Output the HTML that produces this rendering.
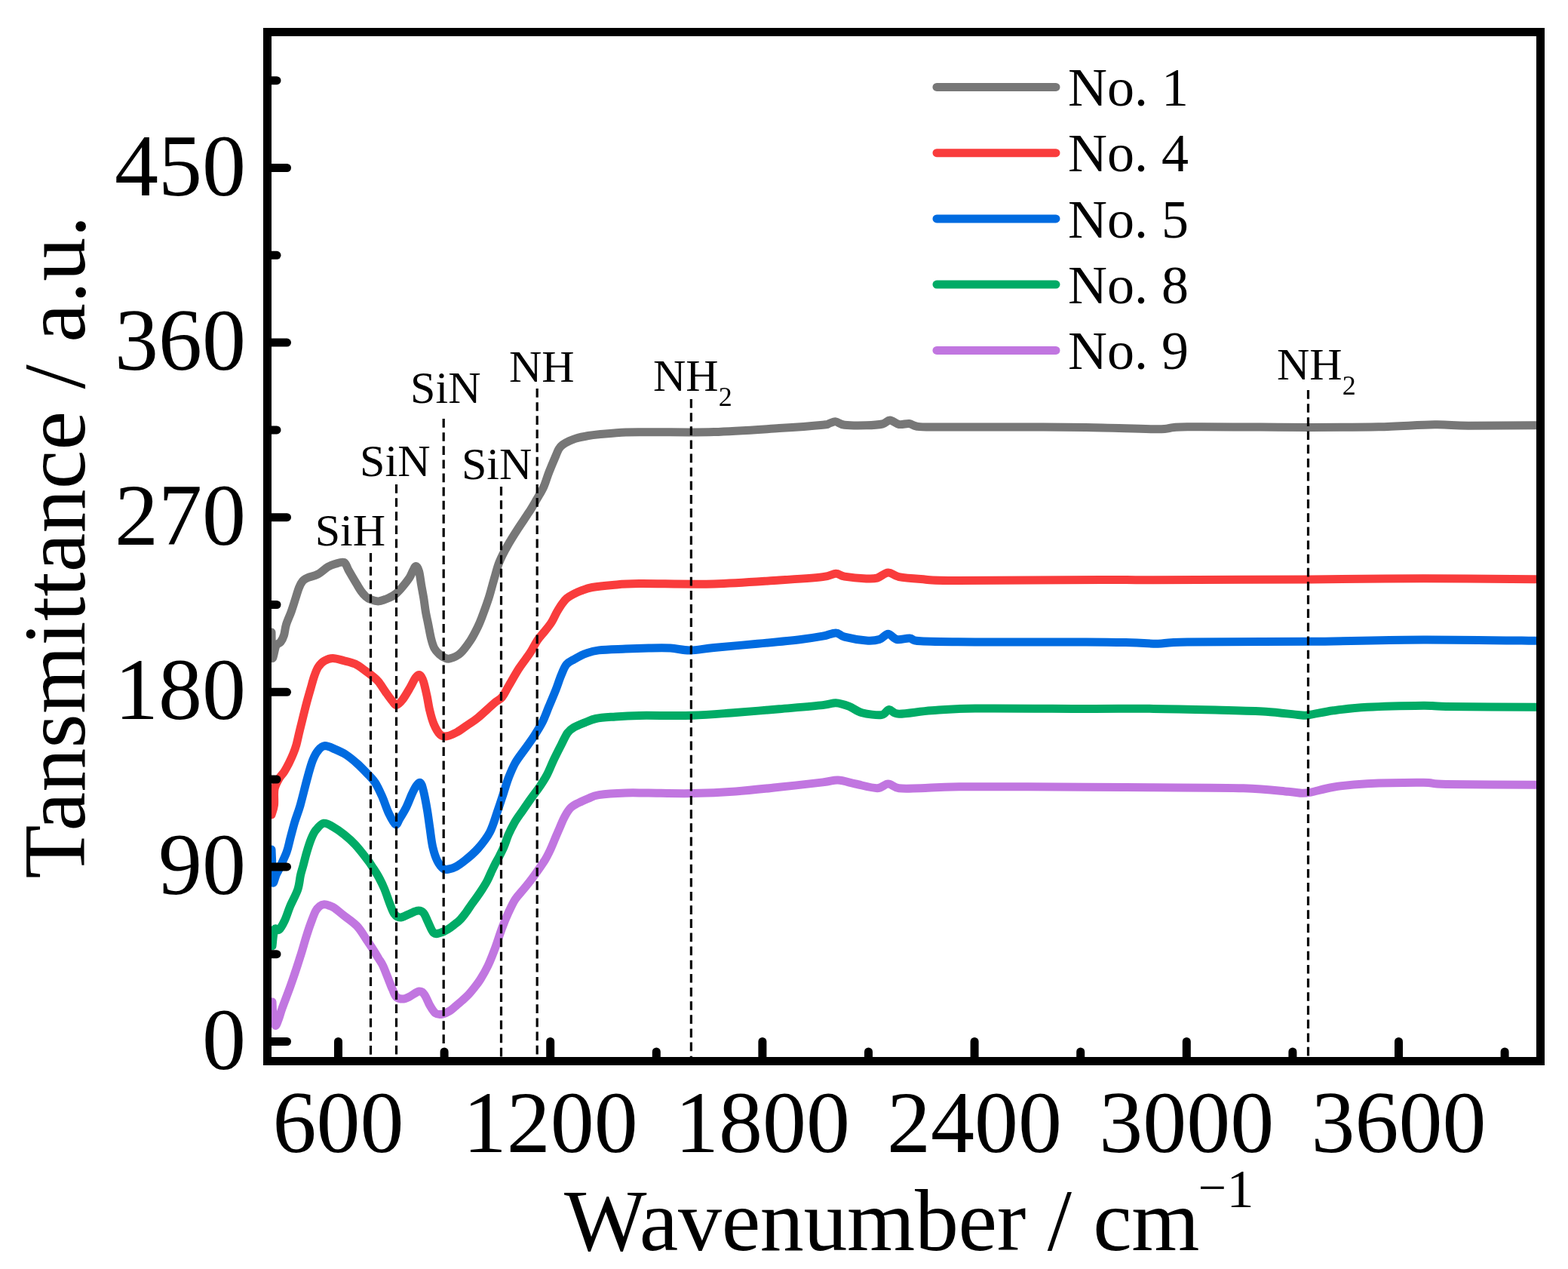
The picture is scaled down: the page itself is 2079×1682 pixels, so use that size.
<!DOCTYPE html>
<html><head><meta charset="utf-8"><title>FTIR spectra</title>
<style>html,body{margin:0;padding:0;background:#fff;}svg{display:block;}</style>
</head><body>
<svg width="2079" height="1682" viewBox="0 0 2079 1682">
<rect width="2079" height="1682" fill="#fff"/>
<clipPath id="pc"><rect x="360" y="48" width="1677" height="1353"/></clipPath>
<g clip-path="url(#pc)" fill="none" stroke-width="11" stroke-linejoin="round" stroke-linecap="round"><path d="M360.0 838.0 C360.2 843.7 360.0 869.0 361.0 872.0 C362.0 875.0 364.2 859.5 366.0 856.0 C367.8 852.5 370.2 853.3 372.0 851.0 C373.8 848.7 375.3 845.8 376.5 842.0 C377.7 838.2 377.8 833.4 379.4 828.1 C381.0 822.8 384.2 816.2 386.3 810.3 C388.4 804.3 390.4 797.6 392.1 792.4 C393.8 787.2 394.9 782.8 396.4 779.1 C397.9 775.4 399.4 772.3 401.3 770.1 C403.2 767.9 404.6 767.2 408.0 765.7 C411.4 764.2 416.9 763.6 421.4 761.2 C425.8 758.8 430.9 753.7 434.7 751.4 C438.5 749.1 440.6 748.5 444.2 747.5 C447.8 746.5 453.1 744.1 456.1 745.4 C459.1 746.7 460.1 752.2 462.0 755.5 C463.9 758.8 465.7 761.9 467.5 765.0 C469.3 768.1 471.2 771.2 473.0 774.2 C474.8 777.2 476.5 780.3 478.4 783.0 C480.3 785.7 482.4 788.3 484.6 790.3 C486.8 792.2 488.7 793.6 491.7 794.7 C494.7 795.8 498.4 797.3 502.4 796.9 C506.4 796.5 512.1 794.0 515.8 792.4 C519.5 790.8 521.7 789.5 524.7 787.1 C527.7 784.7 530.7 781.3 533.7 777.7 C536.7 774.1 540.6 769.2 542.9 765.7 C545.2 762.2 546.1 759.0 547.5 756.5 C548.9 754.0 550.2 750.4 551.5 750.5 C552.8 750.6 554.3 753.0 555.5 757.0 C556.7 761.0 557.5 768.7 558.5 774.6 C559.5 780.5 560.7 786.5 561.7 792.4 C562.7 798.3 563.3 804.3 564.3 810.3 C565.3 816.2 566.7 822.1 567.9 828.1 C569.1 834.1 570.2 840.8 571.5 846.0 C572.8 851.2 574.1 855.8 575.9 859.3 C577.7 862.8 580.0 864.9 582.4 867.0 C584.8 869.1 587.6 871.0 590.0 872.0 C592.4 873.0 593.5 873.8 596.9 872.8 C600.3 871.8 605.8 870.0 610.3 866.0 C614.8 862.0 619.8 854.8 623.7 849.0 C627.6 843.2 631.0 836.1 633.5 831.0 C636.0 825.9 636.5 824.5 638.9 818.2 C641.3 811.9 645.1 801.6 647.8 793.3 C650.5 785.0 652.5 776.3 654.9 768.3 C657.3 760.3 659.0 752.5 662.0 745.1 C665.0 737.7 668.5 731.1 672.7 723.7 C676.9 716.3 682.2 707.9 687.0 700.5 C691.8 693.1 697.1 685.6 701.3 679.1 C705.5 672.6 708.7 666.9 712.0 661.3 C715.3 655.6 718.2 651.2 720.9 645.2 C723.6 639.2 725.3 632.4 728.0 625.6 C730.7 618.8 734.7 609.3 736.9 604.2 C739.1 599.1 739.5 597.5 741.0 595.0 C742.5 592.5 743.7 591.2 746.0 589.5 C748.3 587.8 751.8 585.9 754.8 584.5 C757.8 583.1 759.8 582.2 764.0 581.0 C768.2 579.8 775.0 578.4 780.0 577.5 C785.0 576.6 785.7 576.5 794.0 575.7 C802.3 575.0 817.8 573.5 829.7 573.0 C841.6 572.5 845.9 572.8 865.4 572.7 C884.9 572.6 918.6 573.4 946.6 572.5 C974.6 571.6 1009.2 569.1 1033.2 567.6 C1057.2 566.1 1079.8 564.3 1090.9 563.2 C1102.0 562.1 1097.1 561.7 1100.0 561.0 C1102.9 560.3 1104.9 558.5 1108.2 558.9 C1111.5 559.3 1113.0 562.4 1119.7 563.2 C1126.4 564.0 1140.2 564.0 1148.6 563.8 C1157.0 563.6 1164.8 563.1 1170.0 562.0 C1175.2 560.9 1176.3 556.9 1180.0 557.0 C1183.7 557.1 1187.8 561.8 1192.0 562.5 C1196.2 563.2 1201.7 561.1 1205.5 561.5 C1209.3 561.9 1210.0 564.2 1215.0 565.0 C1220.0 565.8 1217.4 565.9 1235.2 566.1 C1253.0 566.3 1287.7 566.1 1321.8 566.1 C1355.9 566.1 1404.4 566.0 1440.0 566.4 C1475.6 566.8 1513.0 568.9 1535.4 568.8 C1557.8 568.7 1540.4 566.2 1574.2 565.8 C1608.0 565.4 1696.0 566.4 1738.2 566.4 C1780.5 566.4 1800.4 566.4 1827.7 565.8 C1855.0 565.2 1882.4 563.0 1902.3 562.8 C1922.2 562.5 1924.0 564.1 1947.0 564.3 C1970.0 564.4 2024.5 563.8 2040.0 563.7" stroke="#777777"/><path d="M360.0 1080.0 C360.6 1077.8 362.8 1072.7 363.5 1067.0 C364.2 1061.3 362.9 1051.8 364.0 1046.0 C365.1 1040.2 367.8 1035.9 370.0 1032.0 C372.2 1028.1 374.8 1026.2 377.0 1022.6 C379.2 1019.1 381.5 1014.7 383.5 1010.7 C385.5 1006.7 387.3 1002.8 388.9 998.8 C390.5 994.8 391.5 992.2 393.0 986.9 C394.5 981.6 395.4 976.2 397.7 967.0 C400.0 957.8 404.2 940.4 406.6 931.4 C409.0 922.4 410.1 919.0 411.8 913.0 C413.5 907.0 415.2 900.5 416.9 895.7 C418.6 890.9 419.8 887.3 422.0 884.0 C424.2 880.7 426.8 877.9 430.0 876.0 C433.2 874.1 436.8 872.5 441.2 872.5 C445.6 872.5 451.2 874.4 456.1 875.7 C461.1 877.0 466.2 877.9 470.9 880.1 C475.6 882.3 480.1 886.0 484.3 889.0 C488.5 892.0 493.2 895.5 496.2 898.0 C499.2 900.5 499.9 901.0 502.4 904.2 C504.9 907.5 508.4 913.3 511.4 917.5 C514.4 921.7 517.9 926.7 520.3 929.5 C522.7 932.3 523.4 934.8 525.6 934.5 C527.8 934.2 530.7 931.4 533.7 927.5 C536.7 923.6 540.9 916.2 543.8 911.3 C546.7 906.4 549.0 900.7 551.2 898.0 C553.4 895.3 555.4 894.1 557.1 895.0 C558.8 895.9 560.0 899.0 561.5 903.5 C563.0 908.0 564.6 915.7 566.0 922.0 C567.4 928.3 568.2 935.2 569.7 941.4 C571.2 947.6 572.7 953.9 575.0 959.2 C577.3 964.6 580.6 970.7 583.5 973.5 C586.4 976.3 588.7 976.3 592.4 975.8 C596.1 975.3 601.3 972.9 605.8 970.5 C610.3 968.1 614.6 964.7 619.2 961.5 C623.8 958.3 627.5 956.4 633.5 951.5 C639.5 946.6 649.5 937.0 654.9 932.4 C660.2 927.8 662.4 927.9 665.6 924.1 C668.8 920.3 670.3 916.2 674.1 909.8 C677.9 903.4 683.6 893.0 688.4 885.6 C693.2 878.2 698.7 871.7 702.7 865.6 C706.7 859.5 709.0 854.0 712.2 849.2 C715.4 844.4 718.8 841.0 722.0 837.0 C725.2 833.0 728.5 829.2 731.2 824.9 C734.0 820.6 736.1 815.1 738.5 811.0 C740.9 806.9 743.3 803.0 745.5 800.0 C747.7 797.0 749.1 795.0 751.5 793.0 C753.9 791.0 756.6 789.4 759.7 787.8 C762.8 786.2 765.8 784.8 770.0 783.2 C774.2 781.7 778.1 779.8 785.1 778.5 C792.1 777.2 801.5 776.2 811.9 775.4 C822.3 774.6 825.0 773.9 847.5 773.6 C870.0 773.4 915.6 774.7 946.6 773.9 C977.6 773.1 1009.2 770.5 1033.2 769.0 C1057.2 767.5 1078.4 766.1 1090.9 764.6 C1103.4 763.1 1103.4 760.4 1108.2 760.3 C1113.0 760.2 1113.0 763.0 1119.7 764.1 C1126.4 765.2 1141.4 766.6 1148.6 766.9 C1155.8 767.2 1158.2 767.4 1163.0 766.1 C1167.8 764.8 1172.7 759.1 1177.5 758.9 C1182.3 758.6 1184.7 763.2 1191.9 764.6 C1199.1 766.0 1208.8 766.7 1220.8 767.5 C1232.8 768.3 1224.1 769.4 1264.0 769.5 C1303.9 769.6 1415.8 768.5 1460.0 768.4 C1504.2 768.3 1483.1 768.9 1529.5 768.8 C1575.9 768.7 1678.6 768.2 1738.2 767.9 C1797.8 767.5 1837.0 766.7 1887.3 766.7 C1937.6 766.7 2014.5 767.7 2040.0 767.9" stroke="#F93C3C"/><path d="M360.0 1126.0 C360.2 1130.0 360.7 1142.7 361.0 1150.0 C361.3 1157.3 361.2 1168.3 362.0 1170.0 C362.8 1171.7 364.7 1163.0 366.0 1160.0 C367.3 1157.0 367.6 1157.3 369.9 1152.2 C372.2 1147.1 377.5 1136.3 380.0 1129.6 C382.5 1122.9 382.9 1118.7 384.7 1112.0 C386.5 1105.3 388.5 1097.1 390.7 1089.7 C392.9 1082.3 395.4 1076.8 398.1 1067.4 C400.8 1058.0 404.3 1043.1 407.0 1033.2 C409.7 1023.3 412.0 1014.4 414.5 1008.0 C417.0 1001.6 419.2 997.8 421.9 994.6 C424.6 991.4 427.1 988.9 430.8 988.6 C434.5 988.4 439.5 991.1 444.2 993.1 C448.9 995.1 454.1 997.3 459.0 1000.5 C463.9 1003.7 468.9 1007.9 473.9 1012.4 C478.9 1016.9 484.8 1023.1 488.8 1027.3 C492.8 1031.5 494.7 1033.0 497.7 1037.7 C500.7 1042.4 503.6 1048.8 506.6 1055.5 C509.6 1062.2 512.5 1071.8 515.5 1078.0 C518.5 1084.2 522.0 1091.5 524.4 1092.7 C526.8 1093.9 527.6 1088.8 530.0 1085.0 C532.4 1081.2 536.0 1075.4 538.7 1070.0 C541.4 1064.6 544.0 1057.2 546.2 1052.4 C548.4 1047.7 550.1 1044.0 552.0 1041.5 C553.9 1039.0 555.9 1036.5 557.4 1037.5 C558.9 1038.5 559.7 1041.6 561.2 1047.4 C562.7 1053.2 564.8 1064.1 566.2 1072.4 C567.7 1080.7 568.6 1089.1 569.9 1097.4 C571.1 1105.7 572.0 1115.1 573.7 1122.4 C575.4 1129.7 577.5 1136.2 579.9 1141.1 C582.3 1145.9 585.5 1149.7 588.0 1151.5 C590.5 1153.3 592.2 1152.5 595.0 1152.0 C597.8 1151.5 601.2 1150.6 604.9 1148.6 C608.6 1146.6 612.6 1143.7 617.4 1139.8 C622.2 1135.9 628.1 1131.1 633.5 1125.0 C638.9 1118.9 645.0 1111.6 649.5 1103.0 C654.0 1094.4 657.3 1081.8 660.3 1073.3 C663.3 1064.8 665.0 1059.1 667.4 1051.9 C669.8 1044.8 671.8 1037.2 674.5 1030.4 C677.2 1023.6 679.8 1017.0 683.4 1010.8 C687.0 1004.6 691.7 998.9 695.9 993.0 C700.1 987.1 704.5 981.2 708.4 975.2 C712.3 969.2 715.8 963.8 719.1 957.3 C722.4 950.8 725.0 943.0 728.0 935.9 C731.0 928.8 734.2 921.3 736.9 914.5 C739.6 907.7 741.7 900.5 744.1 894.9 C746.5 889.2 748.2 884.2 751.2 880.6 C754.2 877.0 757.7 875.9 761.9 873.5 C766.1 871.1 770.9 868.3 776.2 866.4 C781.6 864.5 785.1 862.9 794.0 861.9 C802.9 860.9 818.7 860.6 829.7 860.1 C840.7 859.6 850.1 859.3 860.0 859.1 C869.9 858.9 879.8 858.6 888.9 859.1 C898.0 859.6 905.2 862.1 914.8 862.0 C924.4 861.9 931.7 860.0 946.6 858.5 C961.5 857.0 985.1 855.1 1004.3 853.3 C1023.5 851.5 1047.6 849.2 1062.0 847.5 C1076.4 845.8 1083.2 844.6 1090.9 843.2 C1098.6 841.8 1103.4 838.8 1108.2 838.9 C1113.0 839.0 1113.0 842.4 1119.7 844.1 C1126.4 845.8 1140.9 848.4 1148.6 849.0 C1156.3 849.6 1161.1 849.0 1165.9 847.5 C1170.7 846.0 1173.7 840.3 1177.5 840.3 C1181.3 840.3 1184.2 846.5 1189.0 847.5 C1193.8 848.5 1201.0 845.7 1206.3 846.1 C1211.6 846.5 1206.4 849.0 1220.8 849.8 C1235.2 850.6 1256.4 850.8 1292.9 851.0 C1329.4 851.2 1405.5 850.8 1440.0 850.9 C1474.5 851.0 1483.7 851.4 1499.6 851.8 C1515.5 852.2 1523.0 853.4 1535.4 853.2 C1547.8 853.1 1540.4 851.4 1574.2 850.9 C1608.0 850.4 1686.0 850.8 1738.2 850.3 C1790.4 849.8 1837.0 848.0 1887.3 847.9 C1937.6 847.8 2014.5 849.1 2040.0 849.4" stroke="#006BE0"/><path d="M361.0 1254.0 C361.5 1250.3 362.5 1235.6 364.0 1232.0 C365.5 1228.4 367.7 1234.3 369.9 1232.4 C372.1 1230.5 374.8 1225.7 377.3 1220.5 C379.8 1215.3 381.8 1208.1 384.7 1201.2 C387.6 1194.3 392.5 1185.9 394.8 1179.0 C397.1 1172.1 397.3 1165.3 398.5 1160.0 C399.7 1154.7 400.6 1152.5 402.0 1147.4 C403.4 1142.3 404.9 1135.5 406.7 1129.6 C408.5 1123.6 410.7 1116.6 412.7 1111.7 C414.7 1106.8 416.1 1103.5 418.9 1100.1 C421.7 1096.7 425.6 1091.9 429.3 1091.2 C433.0 1090.5 436.7 1093.2 441.2 1095.7 C445.7 1098.2 451.2 1102.1 456.1 1106.1 C461.1 1110.1 465.7 1114.0 470.9 1119.5 C476.1 1125.0 483.1 1134.2 487.1 1139.4 C491.1 1144.6 492.2 1146.7 494.7 1150.5 C497.2 1154.3 499.6 1157.9 502.1 1162.5 C504.6 1167.1 507.1 1172.0 509.6 1178.0 C512.1 1184.0 514.8 1192.6 517.0 1198.2 C519.2 1203.8 520.8 1208.6 523.0 1211.6 C525.2 1214.6 527.2 1216.1 530.4 1216.1 C533.6 1216.1 538.3 1213.1 542.3 1211.6 C546.3 1210.1 551.0 1207.3 554.2 1207.1 C557.4 1206.8 559.4 1207.6 561.6 1210.1 C563.8 1212.6 565.3 1217.6 567.5 1222.0 C569.7 1226.4 572.3 1234.1 575.0 1236.5 C577.7 1238.9 580.3 1237.3 583.5 1236.5 C586.7 1235.7 591.1 1233.3 594.2 1231.5 C597.3 1229.7 599.3 1227.9 602.0 1225.8 C604.7 1223.7 607.7 1221.4 610.3 1218.8 C612.9 1216.2 615.1 1213.2 617.5 1210.0 C619.9 1206.8 622.1 1203.1 624.6 1199.6 C627.1 1196.1 629.9 1192.5 632.4 1188.9 C634.9 1185.3 637.3 1181.8 639.6 1178.2 C641.9 1174.6 644.1 1171.1 646.0 1167.5 C647.9 1163.9 649.2 1160.4 650.9 1156.8 C652.6 1153.2 654.2 1149.7 656.0 1146.1 C657.8 1142.5 659.8 1139.3 661.8 1135.4 C663.8 1131.5 666.0 1127.3 668.1 1122.5 C670.2 1117.7 671.8 1111.8 674.1 1106.4 C676.4 1101.1 679.0 1095.8 682.1 1090.4 C685.2 1085.1 689.3 1079.7 693.0 1074.3 C696.7 1068.9 700.4 1063.5 704.2 1058.2 C708.0 1052.9 712.4 1047.4 715.9 1042.2 C719.4 1037.0 722.2 1032.8 725.3 1026.9 C728.4 1021.0 731.2 1013.4 734.4 1006.6 C737.6 999.9 741.5 992.3 744.5 986.4 C747.5 980.5 749.9 974.9 752.6 971.2 C755.3 967.5 756.8 966.5 760.7 964.2 C764.6 961.9 770.9 959.6 775.8 957.6 C780.7 955.6 784.0 953.7 790.0 952.5 C796.0 951.3 802.3 950.9 811.9 950.2 C821.5 949.5 829.9 948.7 847.5 948.4 C865.1 948.1 896.4 948.9 917.7 948.3 C939.0 947.6 956.1 945.9 975.4 944.5 C994.6 943.1 1014.0 941.4 1033.2 939.8 C1052.5 938.1 1078.4 936.0 1090.9 934.6 C1103.4 933.2 1102.4 931.5 1108.2 931.7 C1114.0 932.0 1119.7 933.9 1125.5 936.1 C1131.3 938.3 1135.6 942.8 1142.8 944.7 C1150.0 946.6 1162.8 948.3 1168.8 947.6 C1174.8 946.9 1175.1 940.6 1178.9 940.4 C1182.8 940.2 1182.5 946.0 1191.9 946.2 C1201.3 946.4 1218.4 943.0 1235.2 941.8 C1252.0 940.6 1258.8 939.4 1292.9 939.0 C1327.0 938.6 1400.6 939.3 1440.0 939.4 C1479.4 939.5 1499.7 939.1 1529.5 939.4 C1559.3 939.7 1594.2 940.6 1619.0 941.2 C1643.8 941.8 1661.2 942.1 1678.6 943.2 C1696.0 944.3 1713.8 947.0 1723.3 947.7 C1732.8 948.5 1727.8 948.7 1735.3 947.7 C1742.8 946.7 1755.1 943.5 1768.0 941.8 C1780.9 940.1 1792.9 938.4 1812.8 937.3 C1832.7 936.2 1869.9 935.4 1887.3 935.2 C1904.7 935.1 1891.8 936.0 1917.2 936.4 C1942.7 936.8 2019.5 937.1 2040.0 937.3" stroke="#00AB66"/><path d="M361.0 1328.0 C361.2 1330.8 361.3 1339.8 362.0 1345.0 C362.7 1350.2 363.8 1357.8 365.0 1359.0 C366.2 1360.2 367.5 1355.8 369.0 1352.0 C370.5 1348.2 371.8 1343.0 374.1 1336.5 C376.4 1330.0 380.1 1320.6 383.0 1312.7 C385.9 1304.8 388.6 1296.8 391.3 1288.9 C394.0 1281.0 396.5 1273.0 399.0 1265.1 C401.5 1257.2 403.9 1248.2 406.1 1241.3 C408.3 1234.4 410.0 1229.1 412.1 1223.5 C414.2 1217.9 416.5 1211.2 418.5 1207.5 C420.5 1203.8 422.1 1202.5 424.0 1201.0 C425.9 1199.5 427.7 1198.9 429.9 1198.8 C432.1 1198.7 434.6 1199.6 437.0 1200.5 C439.4 1201.4 441.2 1202.0 444.2 1204.1 C447.2 1206.1 450.1 1208.9 455.0 1212.8 C459.9 1216.7 467.9 1221.7 473.3 1227.4 C478.7 1233.1 483.5 1241.9 487.1 1247.2 C490.7 1252.5 492.5 1255.1 495.0 1259.0 C497.5 1262.9 499.8 1266.9 502.0 1270.5 C504.2 1274.1 505.5 1275.2 508.0 1280.6 C510.5 1286.0 514.8 1297.8 516.9 1302.9 C519.0 1308.1 519.1 1308.5 520.5 1311.5 C521.9 1314.5 523.1 1319.1 525.3 1321.2 C527.5 1323.3 531.0 1324.1 533.9 1324.1 C536.8 1324.1 539.0 1322.9 542.6 1321.2 C546.2 1319.5 552.2 1314.5 555.6 1314.0 C559.0 1313.5 560.4 1315.2 562.8 1318.3 C565.2 1321.4 567.6 1328.7 570.0 1332.8 C572.4 1336.9 574.6 1341.0 577.2 1342.9 C579.9 1344.8 582.6 1344.9 585.9 1344.3 C589.2 1343.7 593.8 1341.4 597.0 1339.5 C600.2 1337.6 602.2 1335.2 604.9 1333.0 C607.6 1330.8 610.3 1328.4 613.0 1326.0 C615.7 1323.6 618.3 1321.3 621.0 1318.5 C623.7 1315.7 626.3 1312.4 629.0 1309.0 C631.7 1305.6 634.0 1302.8 637.0 1298.0 C640.0 1293.2 643.8 1286.7 647.0 1280.0 C650.2 1273.3 652.9 1266.3 656.0 1258.0 C659.1 1249.7 662.5 1238.4 665.6 1230.2 C668.7 1222.0 671.6 1215.1 674.5 1208.8 C677.4 1202.5 679.9 1197.0 683.0 1192.2 C686.1 1187.4 689.7 1184.1 693.0 1180.1 C696.3 1176.1 699.6 1172.1 702.7 1168.1 C705.8 1164.1 708.2 1160.8 711.5 1156.1 C714.8 1151.4 719.5 1145.0 722.6 1139.9 C725.7 1134.8 727.8 1130.3 730.0 1125.6 C732.2 1120.8 734.0 1116.2 736.0 1111.4 C738.0 1106.7 740.0 1101.9 742.1 1097.1 C744.2 1092.3 746.0 1087.3 748.5 1082.8 C751.0 1078.3 753.3 1073.8 757.1 1070.3 C760.9 1066.8 767.6 1064.1 771.4 1062.1 C775.2 1060.1 776.2 1059.7 780.0 1058.3 C783.8 1056.9 785.7 1054.8 794.0 1053.6 C802.3 1052.4 818.7 1051.4 829.7 1051.0 C840.7 1050.6 845.3 1051.0 860.0 1051.1 C874.7 1051.2 898.5 1052.0 917.7 1051.6 C936.9 1051.2 956.1 1050.3 975.4 1048.9 C994.6 1047.5 1014.0 1045.3 1033.2 1043.3 C1052.5 1041.3 1077.9 1038.4 1090.9 1036.9 C1103.9 1035.4 1103.9 1033.8 1111.1 1034.1 C1118.3 1034.4 1125.5 1037.2 1134.2 1039.0 C1142.9 1040.8 1155.8 1044.7 1163.0 1044.7 C1170.2 1044.7 1172.7 1039.0 1177.5 1039.0 C1182.3 1039.0 1184.7 1043.8 1191.9 1044.7 C1199.1 1045.7 1206.4 1045.0 1220.8 1044.7 C1235.2 1044.4 1242.0 1043.0 1278.5 1042.7 C1315.0 1042.5 1398.2 1043.0 1440.0 1043.2 C1481.8 1043.4 1494.7 1043.5 1529.5 1043.8 C1564.3 1044.0 1619.0 1043.8 1648.8 1044.7 C1678.6 1045.6 1695.5 1048.1 1708.4 1049.2 C1721.3 1050.3 1721.3 1051.2 1726.3 1051.3 C1731.3 1051.4 1731.2 1051.4 1738.2 1050.1 C1745.2 1048.8 1755.6 1045.1 1768.0 1043.2 C1780.4 1041.3 1792.9 1039.8 1812.8 1038.8 C1832.7 1037.8 1869.9 1037.2 1887.3 1037.3 C1904.7 1037.4 1891.8 1038.9 1917.2 1039.4 C1942.7 1039.9 2019.5 1040.2 2040.0 1040.3" stroke="#C176E0"/></g>
<g stroke="#000" stroke-width="3.2" stroke-dasharray="11.7 6.44"><line x1="491.5" y1="733" x2="491.5" y2="1401"/><line x1="525.5" y1="642" x2="525.5" y2="1401"/><line x1="588.2" y1="555" x2="588.2" y2="1401"/><line x1="664.5" y1="645" x2="664.5" y2="1401"/><line x1="712.2" y1="515" x2="712.2" y2="1401"/><line x1="916.4" y1="529" x2="916.4" y2="1401"/><line x1="1734.5" y1="517" x2="1734.5" y2="1401"/></g>
<rect x="354.5" y="42.5" width="1688" height="1364" fill="none" stroke="#000" stroke-width="11"/>
<g stroke="#000" stroke-width="11" stroke-linecap="round"><line x1="358" y1="1380.5" x2="380.5" y2="1380.5"/><line x1="358" y1="1148.9" x2="380.5" y2="1148.9"/><line x1="358" y1="917.3" x2="380.5" y2="917.3"/><line x1="358" y1="685.7" x2="380.5" y2="685.7"/><line x1="358" y1="454.1" x2="380.5" y2="454.1"/><line x1="358" y1="222.5" x2="380.5" y2="222.5"/><line x1="358" y1="1264.7" x2="367" y2="1264.7"/><line x1="358" y1="1033.1" x2="367" y2="1033.1"/><line x1="358" y1="801.5" x2="367" y2="801.5"/><line x1="358" y1="569.9" x2="367" y2="569.9"/><line x1="358" y1="338.3" x2="367" y2="338.3"/><line x1="358" y1="106.7" x2="367" y2="106.7"/><line x1="448.5" y1="1403" x2="448.5" y2="1380.5"/><line x1="729.7" y1="1403" x2="729.7" y2="1380.5"/><line x1="1010.9" y1="1403" x2="1010.9" y2="1380.5"/><line x1="1292.1" y1="1403" x2="1292.1" y2="1380.5"/><line x1="1573.3" y1="1403" x2="1573.3" y2="1380.5"/><line x1="1854.5" y1="1403" x2="1854.5" y2="1380.5"/><line x1="589.1" y1="1403" x2="589.1" y2="1394"/><line x1="870.3" y1="1403" x2="870.3" y2="1394"/><line x1="1151.5" y1="1403" x2="1151.5" y2="1394"/><line x1="1432.7" y1="1403" x2="1432.7" y2="1394"/><line x1="1713.9" y1="1403" x2="1713.9" y2="1394"/><line x1="1995.1" y1="1403" x2="1995.1" y2="1394"/></g>
<g font-family="&apos;Liberation Serif&apos;, &apos;Times New Roman&apos;, serif" font-size="116" fill="#000"><text x="326" y="1416.5" text-anchor="end">0</text><text x="326" y="1184.9" text-anchor="end">90</text><text x="326" y="953.3" text-anchor="end">180</text><text x="326" y="721.7" text-anchor="end">270</text><text x="326" y="490.1" text-anchor="end">360</text><text x="326" y="258.5" text-anchor="end">450</text><text x="448.5" y="1527" text-anchor="middle">600</text><text x="729.7" y="1527" text-anchor="middle">1200</text><text x="1010.9" y="1527" text-anchor="middle">1800</text><text x="1292.1" y="1527" text-anchor="middle">2400</text><text x="1573.3" y="1527" text-anchor="middle">3000</text><text x="1854.5" y="1527" text-anchor="middle">3600</text><text x="748" y="1657" letter-spacing="-0.35">Wavenumber / cm</text><text x="1588.7" y="1596.3" font-size="66">&#8722;</text><text x="1626.5" y="1600" font-size="72">1</text><text transform="translate(112,1164.5) rotate(-90)" letter-spacing="0.25">Tansmittance / a.u.</text></g>
<g font-family="&apos;Liberation Serif&apos;, &apos;Times New Roman&apos;, serif" font-size="60" fill="#000"><text x="417.7" y="723">SiH</text><text x="477.1" y="631">SiN</text><text x="544.1" y="534">SiN</text><text x="612" y="635">SiN</text><text x="675" y="506">NH</text><text x="866" y="518">NH<tspan font-size="36" dy="20">2</tspan></text><text x="1693" y="503">NH<tspan font-size="36" dy="20">2</tspan></text></g>
<g font-family="&apos;Liberation Serif&apos;, &apos;Times New Roman&apos;, serif" font-size="72" fill="#000"><line x1="1242" y1="115.4" x2="1400" y2="115.4" stroke="#777777" stroke-width="11" stroke-linecap="round"/><text x="1416" y="140.1">No. 1</text><line x1="1242" y1="202.7" x2="1400" y2="202.7" stroke="#F93C3C" stroke-width="11" stroke-linecap="round"/><text x="1416" y="227.3">No. 4</text><line x1="1242" y1="289.9" x2="1400" y2="289.9" stroke="#006BE0" stroke-width="11" stroke-linecap="round"/><text x="1416" y="314.6">No. 5</text><line x1="1242" y1="377.1" x2="1400" y2="377.1" stroke="#00AB66" stroke-width="11" stroke-linecap="round"/><text x="1416" y="401.8">No. 8</text><line x1="1242" y1="464.4" x2="1400" y2="464.4" stroke="#C176E0" stroke-width="11" stroke-linecap="round"/><text x="1416" y="489.1">No. 9</text></g>
</svg>
</body></html>
